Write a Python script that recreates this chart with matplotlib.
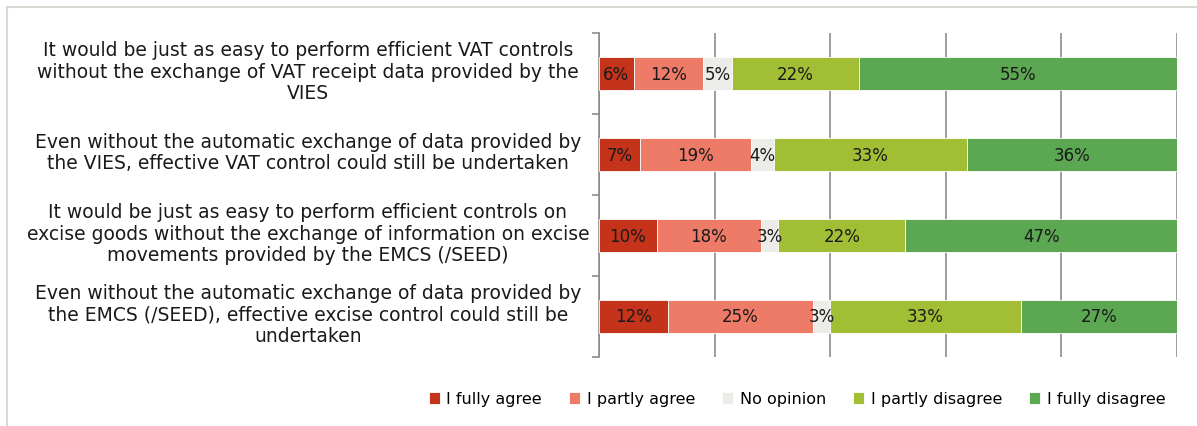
import matplotlib.pyplot as plt
import matplotlib.patches as mpatches
from matplotlib.transforms import blended_transform_factory
import numpy as np

# questions (top to bottom)
categories = [
    "It would be just as easy to perform efficient VAT controls\nwithout the exchange of VAT receipt data provided by the\nVIES",
    "Even without the automatic exchange of data provided by\nthe VIES, effective VAT control could still be undertaken",
    "It would be just as easy to perform efficient controls on\nexcise goods without the exchange of information on excise\nmovements provided by the EMCS (/SEED)",
    "Even without the automatic exchange of data provided by\nthe EMCS (/SEED), effective excise control could still be\nundertaken",
]

series_names = ["I fully agree", "I partly agree", "No opinion", "I partly disagree", "I fully disagree"]
fully_agree = [6, 7, 10, 12]
partly_agree = [12, 19, 18, 25]
no_opinion = [5, 4, 3, 3]
partly_disagree = [22, 33, 22, 33]
fully_disagree = [55, 36, 47, 27]

colors = ["#C5331A", "#EE7B68", "#ECECE8", "#A1BE35", "#5BA752"]

data = np.array([fully_agree, partly_agree, no_opinion, partly_disagree, fully_disagree], dtype=float)
# bars fill 100% of the row
shares = data / data.sum(axis=0) * 100

fig = plt.figure(figsize=(11.97, 4.27), dpi=100)
ax = fig.add_axes([599 / 1197, 1 - 358 / 427, (1177 - 599) / 1197, (358 - 34) / 427])

y = np.arange(len(categories))
left = np.zeros(len(categories))
for i in range(len(series_names)):
    ax.barh(y, shares[i], left=left, height=0.41, color=colors[i],
            edgecolor="white", linewidth=0.6, label=series_names[i], zorder=3)
    for j in range(len(categories)):
        ax.text(left[j] + shares[i][j] / 2, y[j], "{:.0f}%".format(data[i][j]),
                ha="center", va="center", fontsize=12, color="#1a1a1a", zorder=4)
    left += shares[i]

ax.set_xlim(0, 100)
ax.set_ylim(3.5, -0.5)
ax.set_xticks([0, 20, 40, 60, 80, 100])
ax.set_xticklabels([])
ax.tick_params(axis="x", length=0)
ax.grid(axis="x", color="#8c8c8c", linewidth=1.2, zorder=0)
ax.set_yticks([-0.5, 0.5, 1.5, 2.5, 3.5])
ax.set_yticklabels([])
ax.tick_params(axis="y", length=5, color="#8c8c8c", width=1.2)
for s in ["top", "right", "bottom"]:
    ax.spines[s].set_visible(False)
ax.spines["left"].set_color("#8c8c8c")
ax.spines["left"].set_linewidth(1.2)

trans = blended_transform_factory(fig.transFigure, ax.transData)
for j, cat in enumerate(categories):
    ax.text(308 / 1197, y[j] - 0.03, cat, transform=trans, ha="center", va="center",
            multialignment="center", fontsize=13.5, color="#1a1a1a", linespacing=1.18)

fig.legend(loc="center", bbox_to_anchor=(797 / 1197, 1 - 400 / 427), ncol=5, frameon=False,
           fontsize=11.5, handlelength=0.7, handleheight=0.7, handletextpad=0.4,
           columnspacing=1.7)

# outer chart frame
fig.patches.append(mpatches.Rectangle((7 / 1197, -0.1), 1.2, 1.1 - 8 / 427, transform=fig.transFigure,
                                      fill=False, edgecolor="#d9d9d4", linewidth=1.5))

fig.savefig("out.png", dpi=100)
